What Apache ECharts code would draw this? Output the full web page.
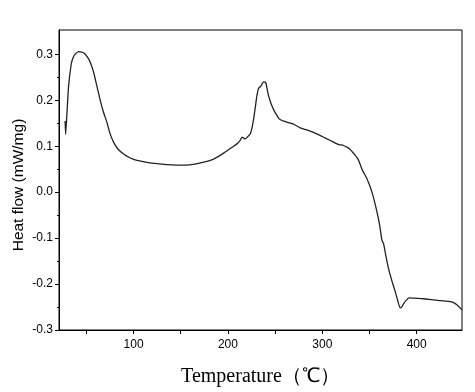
<!DOCTYPE html>
<html>
<head>
<meta charset="utf-8">
<script src="https://cdn.jsdelivr.net/npm/echarts@6/dist/echarts.min.js"></script>
<style>
  html, body { margin: 0; padding: 0; background: #fff; }
  #main { width: 475px; height: 392px; }
</style>
</head>
<body>
<div id="main"></div>
<script>
// DSC trace
const temperature = [27.5, 28.0, 29.5, 31.2, 34, 36, 38.3, 41.8, 45, 48, 52.4, 55, 57.7, 61, 64.7, 68, 71.8, 75, 78.8, 83,
  89.4, 96, 103.6, 114, 124.8, 135, 145, 155, 165, 170.8, 178, 184.8, 190, 195.4, 201, 206, 210, 213, 215, 217,
  218.4, 221, 223.7, 225.5, 227.2, 229, 230.7, 232.4, 234, 235.3, 236.5, 237.7, 239.9, 241.5, 243, 244.8, 246.6, 249, 251.9, 254,
  257.2, 263, 269.5, 276.6, 283, 290.7, 298, 304.9, 310, 315.5, 318, 320.8, 323, 326.1, 329, 331.7, 335, 337.9, 342, 347.3,
  352.6, 357.9, 361, 363.2, 364.9, 367, 370.2, 374, 377.3, 380, 382.6, 384.5, 386, 389, 392, 400, 407.3, 416, 425, 432,
  437.3, 442.6, 447.9];
const heatFlow = [0.155, 0.126, 0.175, 0.232, 0.279, 0.293, 0.301, 0.306, 0.305, 0.302, 0.29, 0.278, 0.261, 0.232, 0.20, 0.175, 0.152, 0.128, 0.109, 0.095,
  0.083, 0.075, 0.069, 0.065, 0.062, 0.060, 0.059, 0.059, 0.061, 0.064, 0.067, 0.072, 0.078, 0.085, 0.093, 0.10, 0.106, 0.113, 0.120, 0.117,
  0.116, 0.121, 0.127, 0.14, 0.159, 0.185, 0.21, 0.226, 0.229, 0.232, 0.237, 0.240, 0.239, 0.225, 0.21, 0.198, 0.188, 0.177, 0.167, 0.160,
  0.156, 0.152, 0.148, 0.14, 0.136, 0.130, 0.123, 0.116, 0.111, 0.105, 0.103, 0.103, 0.101, 0.098, 0.094, 0.088, 0.080, 0.072, 0.05, 0.029,
  0.0, -0.043, -0.075, -0.105, -0.112, -0.135, -0.167, -0.195, -0.217, -0.237, -0.252, -0.249, -0.243, -0.235, -0.23, -0.231, -0.232, -0.234, -0.236, -0.237,
  -0.239, -0.245, -0.256];

const xLabels = [100, 200, 300, 400];
const xTicks = [50, 100, 150, 200, 250, 300, 350, 400];
const yLabels = [-0.3, -0.2, -0.1, 0.0, 0.1, 0.2, 0.3];
const yMinorTicks = [-0.25, -0.15, -0.05, 0.05, 0.15, 0.25];

const xMin = 21, xMax = 448;
const yMin = -0.3, yMax = 0.353;

const chart = echarts.init(document.getElementById('main'), null, { renderer: 'canvas' });

const tickFont = { color: '#000', fontFamily: 'Liberation Sans, Arial', fontSize: 12 };

chart.setOption({
  animation: false,
  backgroundColor: '#fff',
  grid: {
    left: 59, right: 13, top: 30, bottom: 60,
    show: true, borderColor: '#000', borderWidth: 1, backgroundColor: 'transparent'
  },
  xAxis: {
    type: 'value',
    min: xMin, max: xMax,
    name: 'Temperature\uFF08\u2103\uFF09',
    nameLocation: 'middle',
    nameGap: 37,
    nameMoveOverlap: false,
    nameTextStyle: { color: '#000', fontFamily: 'Liberation Serif, Times New Roman', fontSize: 20 },
    axisLine: { show: true, onZero: false, lineStyle: { color: '#000', width: 1 } },
    axisTick: { show: true, length: 4, inside: false, customValues: xTicks, lineStyle: { color: '#000' } },
    axisLabel: { ...tickFont, margin: 9, customValues: xLabels },
    splitLine: { show: false }
  },
  yAxis: [{
    type: 'value',
    min: yMin, max: yMax,
    name: 'Heat flow (mW/mg)',
    nameLocation: 'middle',
    nameGap: 32,
    nameMoveOverlap: false,
    nameTextStyle: { color: '#000', fontFamily: 'Liberation Sans, Arial', fontSize: 15.5, padding: [0, 10, 0, 0] },
    axisLine: { show: true, onZero: false, lineStyle: { color: '#000', width: 1 } },
    axisTick: { show: true, length: 4, customValues: yLabels, lineStyle: { color: '#000' } },
    axisLabel: { ...tickFont, margin: 6, customValues: yLabels, formatter: v => v.toFixed(1) },
    splitLine: { show: false }
  }, {
    type: 'value',
    position: 'left',
    min: yMin, max: yMax,
    axisLine: { show: false, onZero: false },
    axisTick: { show: true, length: 2, customValues: yMinorTicks, lineStyle: { color: '#000' } },
    axisLabel: { show: false },
    splitLine: { show: false }
  }],
  series: [{
    type: 'line',
    data: temperature.map((t, i) => [t, heatFlow[i]]),
    showSymbol: false,
    smooth: 0.2,
    lineStyle: { color: '#222', width: 1.3 }
  }]
});
</script>
</body>
</html>
